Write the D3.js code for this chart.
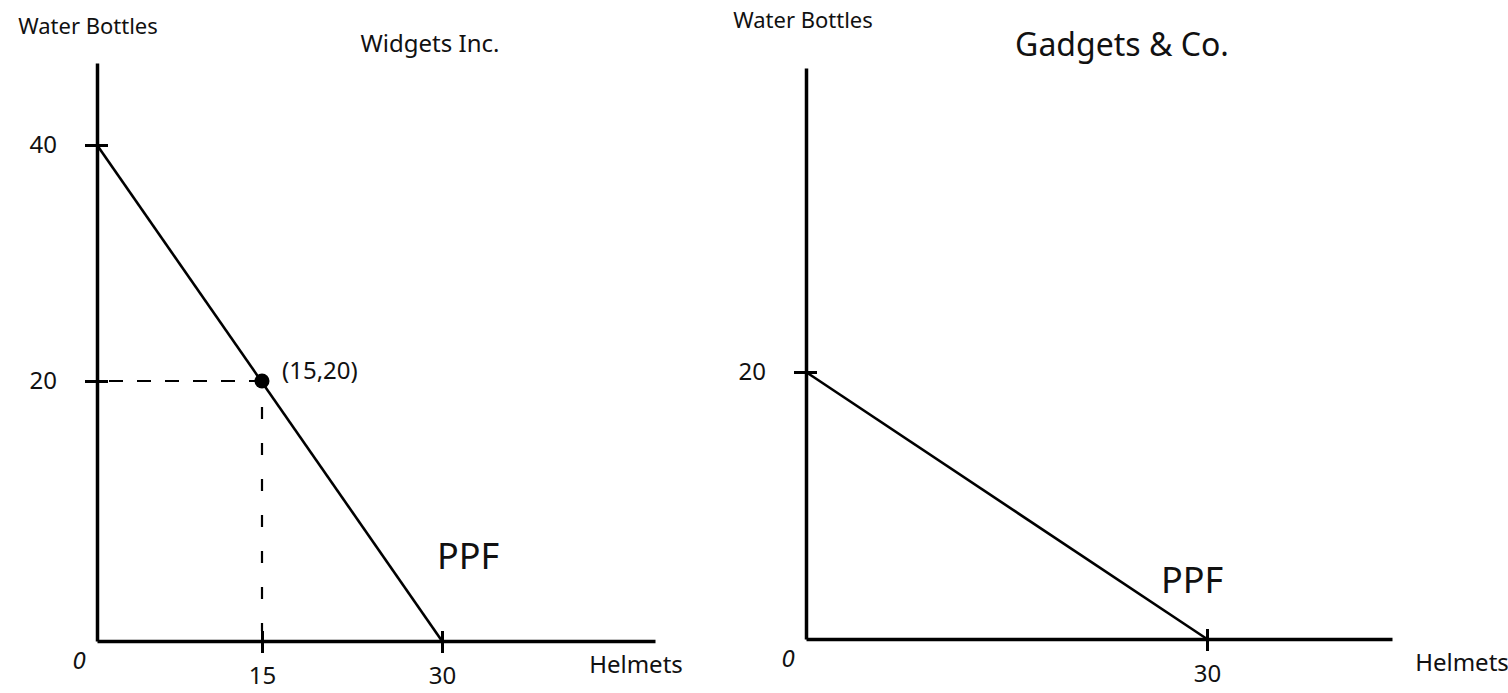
<!DOCTYPE html>
<html>
<head>
<meta charset="utf-8">
<script src="https://cdn.jsdelivr.net/npm/d3@7"></script>
<style>
  body { margin: 0; background: #fff; }
  svg text { font-family: "Noto Sans", sans-serif; fill: #111; }
</style>
</head>
<body>
<svg id="chart"></svg>
<script>
// chart values
const titles = ["Widgets Inc.", "Gadgets & Co."];
const yLabel = "Water Bottles";
const xLabel = "Helmets";
const widgetsPPF = [{ h: 0, w: 40 }, { h: 30, w: 0 }];
const gadgetsPPF = [{ h: 0, w: 20 }, { h: 30, w: 0 }];
const widgetsYTicks = [20, 40];
const widgetsXTicks = [15, 30];
const gadgetsYTicks = [20];
const gadgetsXTicks = [30];
const widgetsPoint = { h: 15, w: 20, label: "(15,20)" };

const width = 1508;
const height = 693;

const svg = d3.select("#chart").attr("width", width).attr("height", height);

//hand-drawn axes are not perfectly even, so use piecewise scales
const panels = [
  {
    title: titles[0], titleX: 430, titleY: 52, titleSize: 24,
    data: widgetsPPF, xTicks: widgetsXTicks, yTicks: widgetsYTicks,
    x: d3.scaleLinear().domain([0, 15, 30, 50]).range([97, 262, 442, 655]),
    y: d3.scaleLinear().domain([0, 20, 40, 47]).range([641, 381, 145, 63]),
    yLabelX: 88, yLabelY: 34, xLabelX: 636, ppfX: 468, ppfY: 569
  },
  {
    title: titles[1], titleX: 1122, titleY: 56, titleSize: 32,
    data: gadgetsPPF, xTicks: gadgetsXTicks, yTicks: gadgetsYTicks,
    x: d3.scaleLinear().domain([0, 30, 44]).range([806, 1207, 1392]),
    y: d3.scaleLinear().domain([0, 20, 45]).range([639, 372, 68]),
    yLabelX: 803, yLabelY: 28, xLabelX: 1462, ppfX: 1192, ppfY: 593
  }
];

panels.forEach((p) => {
  const g = svg.append("g");

  //y axis with ticks crossing the line
  const yAxis = g.append("g")
    .attr("transform", `translate(${p.x(0)},0)`)
    .call(d3.axisLeft(p.y).tickValues(p.yTicks).tickSize(12).tickSizeOuter(0).tickPadding(28));
  yAxis.select(".domain").attr("stroke", "#000").attr("stroke-width", 3.5);
  yAxis.selectAll(".tick line").attr("x1", 11).attr("stroke", "#000").attr("stroke-width", 3);
  yAxis.selectAll(".tick text").style("font-size", "24px").attr("font-family", "Noto Sans");

  //x axis
  const xAxis = g.append("g")
    .attr("transform", `translate(0,${p.y(0)})`)
    .call(d3.axisBottom(p.x).tickValues(p.xTicks).tickSize(12).tickSizeOuter(0).tickPadding(14));
  xAxis.select(".domain").attr("stroke", "#000").attr("stroke-width", 3.5);
  xAxis.selectAll(".tick line").attr("y1", -10).attr("stroke", "#000").attr("stroke-width", 3);
  xAxis.selectAll(".tick text").style("font-size", "24px").attr("font-family", "Noto Sans");

  //origin label
  g.append("text")
    .attr("x", p.x(0) - 18)
    .attr("y", p.y(0) + 28)
    .attr("text-anchor", "middle")
    .style("font-size", "24px")
    .style("font-style", "italic")
    .text("0");

  //axis titles
  g.append("text")
    .attr("x", p.yLabelX)
    .attr("y", p.yLabelY)
    .attr("text-anchor", "middle")
    .style("font-size", "22px")
    .text(yLabel);
  g.append("text")
    .attr("x", p.xLabelX)
    .attr("y", p.y(0) + 32)
    .attr("text-anchor", "middle")
    .style("font-size", "24px")
    .text(xLabel);

  //company name
  g.append("text")
    .attr("x", p.titleX)
    .attr("y", p.titleY)
    .attr("text-anchor", "middle")
    .style("font-size", p.titleSize + "px")
    .text(p.title);

  //PPF line
  const line = d3.line().x((d) => p.x(d.h)).y((d) => p.y(d.w));
  g.append("path")
    .datum(p.data)
    .attr("d", line)
    .attr("fill", "none")
    .attr("stroke", "#000")
    .attr("stroke-width", 2.6);

  g.append("text")
    .attr("x", p.ppfX)
    .attr("y", p.ppfY)
    .attr("text-anchor", "middle")
    .style("font-size", "36px")
    .text("PPF");

  p.g = g;
});

//dashed guides and point on Widgets Inc.
const pw = panels[0];
pw.g.append("line")
  .attr("x1", pw.x(0) + 12).attr("x2", pw.x(widgetsPoint.h))
  .attr("y1", pw.y(widgetsPoint.w)).attr("y2", pw.y(widgetsPoint.w))
  .attr("stroke", "#000").attr("stroke-width", 2.2)
  .attr("stroke-dasharray", "14,14");
pw.g.append("line")
  .attr("x1", pw.x(widgetsPoint.h)).attr("x2", pw.x(widgetsPoint.h))
  .attr("y1", pw.y(widgetsPoint.w) + 26).attr("y2", pw.y(0) - 10)
  .attr("stroke", "#000").attr("stroke-width", 2.2)
  .attr("stroke-dasharray", "12,24");
pw.g.append("circle")
  .attr("cx", pw.x(widgetsPoint.h))
  .attr("cy", pw.y(widgetsPoint.w))
  .attr("r", 7.5)
  .attr("fill", "#000");
pw.g.append("text")
  .attr("x", pw.x(widgetsPoint.h) + 20)
  .attr("y", pw.y(widgetsPoint.w) - 2)
  .style("font-size", "24px")
  .text(widgetsPoint.label);
</script>
</body>
</html>
